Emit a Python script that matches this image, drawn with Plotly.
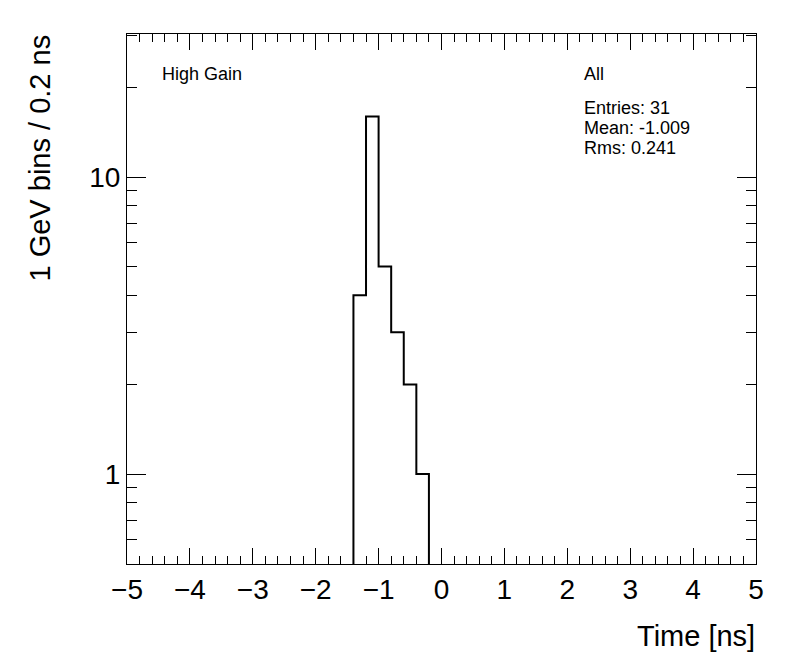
import plotly.graph_objects as go
import numpy as np

# Histogram data (0.2 ns bins from -5 to 5)
bin_lo = -5.0
bin_width = 0.2
n_bins = 50
nonzero_bin_left_edges = [-1.4, -1.2, -1.0, -0.8, -0.6, -0.4]
nonzero_counts = [4, 16, 5, 3, 2, 1]

x_tick_vals = [-5, -4, -3, -2, -1, 0, 1, 2, 3, 4, 5]
y_tick_vals = [1, 10]
y_tick_text = ["1", "10"]

title_label = "High Gain"
legend_label = "All"
stats_lines = ["Entries: 31", "Mean: -1.009", "Rms: 0.241"]
x_title = "Time [ns]"
y_title = "1 GeV bins / 0.2 ns"

# Build full bin contents
edges = bin_lo + bin_width * np.arange(n_bins + 1)
counts = np.zeros(n_bins)
for e, c in zip(nonzero_bin_left_edges, nonzero_counts):
    idx = int(round((e - bin_lo) / bin_width))
    counts[idx] = c

floor = 1e-3
ys = np.where(counts > 0, counts, floor)
step_x = list(edges)
step_y = list(ys) + [ys[-1]]

fig = go.Figure()
fig.add_trace(go.Scatter(
    x=step_x, y=step_y, mode="lines", line=dict(color="black", width=2, shape="hv"),
    showlegend=False, hoverinfo="skip"))

font = "Liberation Sans, Arial, Helvetica, sans-serif"

# page body has an 8px margin: plot area spans x 127..756, y 34..564 in the window
PX0, PX1, PY0, PY1 = 127, 756, 34, 564


def px(x):
    return (x - PX0) / (PX1 - PX0)


def py(y):
    return (PY1 - y) / (PY1 - PY0)


fig.update_layout(
    width=788, height=664,
    margin=dict(l=119, r=40, t=26, b=108),
    paper_bgcolor="white", plot_bgcolor="white",
    font=dict(family=font, color="black"),
    showlegend=False,
    xaxis=dict(
        range=[-5, 5], tickvals=x_tick_vals, ticks="inside", ticklen=16, tickwidth=1,
        tickcolor="black", showline=True, linecolor="black", linewidth=1, mirror="ticks",
        showgrid=False, zeroline=False, tickfont=dict(size=28, family=font),
        minor=dict(ticks="inside", dtick=0.2, ticklen=8, tickcolor="black", tickwidth=1, showgrid=False),
    ),
    yaxis=dict(
        type="log", range=[-0.303, 1.4815], tickvals=y_tick_vals, ticktext=y_tick_text,
        ticks="inside", ticklen=19, tickwidth=1, tickcolor="black", showline=True,
        linecolor="black", linewidth=1, mirror="ticks", showgrid=False, zeroline=False,
        tickfont=dict(size=28, family=font),
        minor=dict(ticks="inside", dtick="D1", ticklen=10, tickcolor="black", tickwidth=1, showgrid=False),
    ),
)

fig.add_annotation(x=px(160), y=py(74), xref="paper", yref="paper", text=title_label, showarrow=False,
                   xanchor="left", yanchor="middle", font=dict(size=18, family=font))
fig.add_annotation(x=px(582), y=py(74), xref="paper", yref="paper", text=legend_label, showarrow=False,
                   xanchor="left", yanchor="middle", font=dict(size=18, family=font))
for i, line in enumerate(stats_lines):
    fig.add_annotation(x=px(582), y=py(108 + i * 20), xref="paper", yref="paper", text=line,
                       showarrow=False, xanchor="left", yanchor="middle", font=dict(size=18, family=font))

fig.add_annotation(x=px(757), y=py(636), xref="paper", yref="paper", text=x_title,
                   showarrow=False, xanchor="right", yanchor="middle", font=dict(size=29, family=font))
fig.add_annotation(x=px(40), y=py(33), xref="paper", yref="paper", text=y_title,
                   textangle=-90, showarrow=False, xanchor="center", yanchor="top",
                   font=dict(size=29, family=font))

fig.write_html("out.html")
